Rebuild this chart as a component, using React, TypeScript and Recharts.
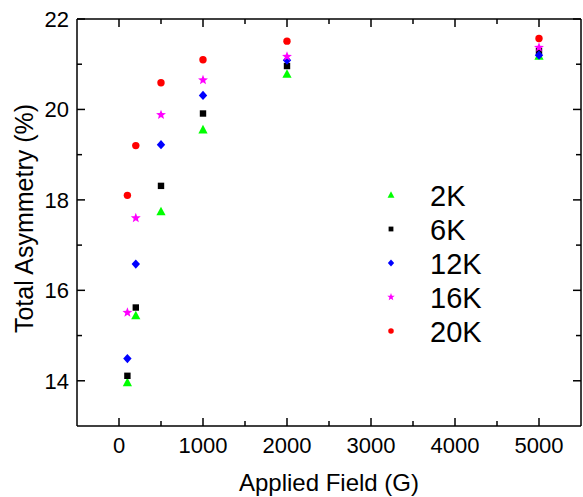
import { ScatterChart, Scatter, XAxis, YAxis, Legend, Label } from 'recharts'

const fields = [100, 200, 500, 1000, 2000, 5000]
const asym2K = [13.96, 15.44, 17.74, 19.55, 20.78, 21.18]
const asym6K = [14.11, 15.62, 18.31, 19.91, 20.96, 21.29]
const asym12K = [14.49, 16.58, 19.22, 20.31, 21.09, 21.2]
const asym16K = [15.51, 17.6, 19.88, 20.65, 21.17, 21.37]
const asym20K = [18.1, 19.2, 20.59, 21.1, 21.51, 21.57]

const seriesNames = ['2K', '6K', '12K', '16K', '20K']
const seriesValues = [asym2K, asym6K, asym12K, asym16K, asym20K]
const seriesShapes = ['triangle', 'square', 'diamond', 'star', 'circle']

const xTicks = [0, 500, 1000, 1500, 2000, 2500, 3000, 3500, 4000, 4500, 5000]
const xMajor = [0, 1000, 2000, 3000, 4000, 5000]
const yTicks = [14, 15, 16, 17, 18, 19, 20, 21, 22]
const yMajor = [14, 16, 18, 20, 22]

const series = seriesNames.map((name, i) => ({
  name,
  shape: seriesShapes[i],
  data: fields.map((x, j) => ({ x, y: seriesValues[i][j] })),
}))

const FONT = 'Arial, "Liberation Sans", sans-serif'

function Marker({ kind, cx, cy, s = 1 }: { kind: string; cx: number; cy: number; s?: number }) {
  if (kind === 'triangle') {
    return <polygon points={`${cx},${cy - 5 * s} ${cx - 4.6 * s},${cy + 3.6 * s} ${cx + 4.6 * s},${cy + 3.6 * s}`} fill="#00ff00" />
  }
  if (kind === 'square') {
    return <rect x={cx - 3.2 * s} y={cy - 3.2 * s} width={6.4 * s} height={6.4 * s} fill="#000" />
  }
  if (kind === 'diamond') {
    return <polygon points={`${cx},${cy - 4.6 * s} ${cx + 4.2 * s},${cy} ${cx},${cy + 4.6 * s} ${cx - 4.2 * s},${cy}`} fill="#0000ff" />
  }
  if (kind === 'star') {
    const pts: string[] = []
    for (let k = 0; k < 10; k++) {
      const r = (k % 2 === 0 ? 5.2 : 2.2) * s
      const a = -Math.PI / 2 + (k * Math.PI) / 5
      pts.push(`${cx + r * Math.cos(a)},${cy + r * Math.sin(a)}`)
    }
    return <polygon points={pts.join(' ')} fill="#ff00ff" />
  }
  return <circle cx={cx} cy={cy} r={3.7 * s} fill="#ff0000" />
}

// ticks point into the plot, majors are longer and carry the label
const BottomTick = ({ x, y, payload }: any) => {
  const major = xMajor.includes(payload.value)
  return (
    <g>
      <line x1={x} x2={x} y1={y} y2={y - (major ? 8 : 5)} stroke="#000" strokeWidth={1.5} />
      {major && <text x={x} y={y + 27} textAnchor="middle" fontSize={22} fill="#000">{payload.value}</text>}
    </g>
  )
}

const TopTick = ({ x, y, payload }: any) => {
  const major = xMajor.includes(payload.value)
  return <line x1={x} x2={x} y1={y} y2={y + (major ? 8 : 5)} stroke="#000" strokeWidth={1.5} />
}

const LeftTick = ({ x, y, payload }: any) => {
  const major = yMajor.includes(payload.value)
  return (
    <g>
      <line x1={x} x2={x + (major ? 8 : 5)} y1={y} y2={y} stroke="#000" strokeWidth={1.5} />
      {major && <text x={x - 8} y={y + 8} textAnchor="end" fontSize={22} fill="#000">{payload.value}</text>}
    </g>
  )
}

const RightTick = ({ x, y, payload }: any) => {
  const major = yMajor.includes(payload.value)
  return <line x1={x} x2={x - (major ? 8 : 5)} y1={y} y2={y} stroke="#000" strokeWidth={1.5} />
}

const LegendBox = () => (
  <svg width={130} height={180} style={{ fontFamily: FONT }}>
    {series.map((s, i) => (
      <g key={s.name}>
        <Marker kind={s.shape} cx={21} cy={25 + i * 34} s={0.75} />
        <text x={60} y={25 + i * 34 + 10.5} fontSize={29} fill="#000">{s.name}</text>
      </g>
    ))}
  </svg>
)

export default function App() {
  return (
    <div style={{ position: 'absolute', left: 0, top: 0, fontFamily: FONT }}>
      <ScatterChart width={583} height={497} margin={{ top: 18, right: 1, bottom: 0, left: 0 }}>
        <XAxis xAxisId="b" type="number" dataKey="x" domain={[-500, 5500]} ticks={xTicks} allowDataOverflow
          height={71} tickSize={0} tickMargin={0} tickLine={false} tick={<BottomTick />} interval={0}
          axisLine={{ stroke: '#000', strokeWidth: 1.5 }}>
          <Label content={({ viewBox }: any) => (
            <text x={viewBox.x + viewBox.width / 2} y={491} textAnchor="middle" fontSize={24} fill="#000">Applied Field (G)</text>
          )} />
        </XAxis>
        <XAxis xAxisId="t" orientation="top" type="number" dataKey="x" domain={[-500, 5500]} ticks={xTicks} allowDataOverflow
          height={1} tickSize={0} tickMargin={0} tickLine={false} tick={<TopTick />} interval={0}
          axisLine={{ stroke: '#000', strokeWidth: 1.5 }} />
        <YAxis yAxisId="l" type="number" dataKey="y" domain={[13, 22]} ticks={yTicks} allowDataOverflow
          width={77} tickSize={0} tickMargin={0} tickLine={false} tick={<LeftTick />} interval={0}
          axisLine={{ stroke: '#000', strokeWidth: 1.5 }}>
          <Label content={({ viewBox }: any) => (
            <text x={33} y={viewBox.y + viewBox.height / 2 - 4} transform={`rotate(-90, 33, ${viewBox.y + viewBox.height / 2 - 4})`}
              textAnchor="middle" fontSize={25} fill="#000">Total Asymmetry (%)</text>
          )} />
        </YAxis>
        <YAxis yAxisId="r" orientation="right" type="number" dataKey="y" domain={[13, 22]} ticks={yTicks} allowDataOverflow
          width={1} tickSize={0} tickMargin={0} tickLine={false} tick={<RightTick />} interval={0}
          axisLine={{ stroke: '#000', strokeWidth: 1.5 }} />
        {series.map((s) => (
          <Scatter key={s.name} name={s.name} data={s.data} xAxisId="b" yAxisId="l" isAnimationActive={false}
            shape={(p: any) => <Marker kind={s.shape} cx={p.cx} cy={p.cy} />} />
        ))}
        <Legend layout="vertical" align="center" verticalAlign="middle"
          wrapperStyle={{ left: 370, top: 170, width: 130, height: 180 }} content={() => <LegendBox />} />
      </ScatterChart>
    </div>
  )
}
